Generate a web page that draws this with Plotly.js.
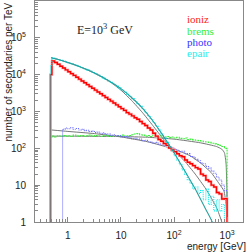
<!DOCTYPE html>
<html>
<head>
<meta charset="utf-8">
<script src="https://cdn.plot.ly/plotly-3.0.1.min.js"></script>
<style>html,body{margin:0;padding:0;background:#fff;}#chart{width:249px;height:252px;}</style>
</head>
<body>
<div id="chart"></div>
<script>
// Histogram bin edges (GeV): a narrow first bin, then 0.05-decade bins from 0.5 to 1000 GeV
const binEdges = [0.47, 0.5, 0.561, 0.631, 0.708, 0.794, 0.891, 1, 1.122, 1.259, 1.413, 1.585, 1.778, 1.995,
  2.239, 2.512, 2.818, 3.162, 3.548, 3.981, 4.467, 5.012, 5.623, 6.31, 7.079, 7.943, 8.913, 10, 11.22, 12.59,
  14.13, 15.85, 17.78, 19.95, 22.39, 25.12, 28.18, 31.62, 35.48, 39.81, 44.67, 50.12, 56.23, 63.1, 70.79,
  79.43, 89.13, 100, 112.2, 125.9, 141.3, 158.5, 177.8, 199.5, 223.9, 251.2, 281.8, 316.2, 354.8, 398.1,
  446.7, 501.2, 562.3, 631, 707.9, 794.3, 891.3, 1000];
// Histogram contents (secondaries per TeV); 0 = empty bin
const ioniz = [10000, 23400, 21400, 19100, 17000, 15100, 13500, 12000, 10700, 9550, 8510, 7590, 6760, 6030,
  5370, 4790, 4270, 3800, 3390, 3020, 2690, 2400, 2140, 1910, 1700, 1510, 1350, 1200, 1070, 933, 851, 759,
  676, 617, 537, 468, 417, 355, 316, 257, 214, 174, 155, 135, 120, 102, 91, 81, 71, 63, 59, 48, 42, 38, 34,
  30, 27.5, 20, 18.2, 13.8, 12.6, 10, 8.9, 6.3, 5.8, 4.2, 4.3];
const brems = [200, 214, 204, 219, 209, 224, 214, 219, 209, 229, 214, 219, 224, 209, 219, 229, 214, 224, 219,
  209, 224, 229, 214, 219, 209, 224, 219, 229, 214, 219, 224, 234, 245, 251, 234, 229, 214, 224, 209, 229,
  214, 204, 219, 200, 209, 195, 204, 191, 200, 186, 182, 191, 174, 178, 170, 166, 162, 158, 151, 148, 145,
  138, 132, 126, 120, 112, 100];
const photo = [0, 0, 0, 0, 0, 331, 355, 339, 363, 331, 347, 316, 331, 302, 309, 288, 295, 269, 275, 257, 263,
  240, 245, 229, 234, 214, 224, 204, 209, 195, 200, 182, 186, 174, 178, 162, 166, 151, 148, 141, 145, 129,
  132, 117, 115, 107, 105, 95, 89, 81, 83, 71, 72, 60, 58, 50, 46, 40, 38, 32, 29, 24, 21, 16.6, 13.8, 10, 7.1];
const epair = [18000, 28200, 26900, 25700, 24500, 23400, 21900, 20900, 20000, 18600, 17400, 16600, 15500,
  14500, 13500, 12600, 11500, 10700, 9770, 8910, 8130, 7410, 6760, 6170, 5500, 4900, 4370, 3890, 3390, 2950,
  2570, 2240, 1910, 1620, 1380, 1150, 933, 759, 617, 501, 398, 316, 245, 186, 145, 110, 85, 63, 48, 36, 26,
  20, 14, 11.2, 7.9, 8.9, 6.0, 7.1, 4.0, 7.9, 3.0, 5.0, 2.0, 4.0, 2.0, 3.0, 0];

// Fitted curves
const epairFitE = [0.48, 0.63, 1, 1.58, 2.51, 3.98, 6.31, 10, 15.8, 25.1, 39.8, 63.1, 100, 158, 251, 398, 525, 580];
const epairFitV = [28800, 26300, 21400, 17000, 12900, 9330, 6460, 4170, 2400, 1260, 562, 214, 76, 25, 7.9, 2.2, 1, 0.4];
const steepFitE = [0.48, 0.63, 1, 1.58, 2.51, 3.98, 6.31, 10, 15.8, 25.1, 39.8, 63.1, 100, 158, 251, 398, 631, 794, 900];
const steepFitV = [28800, 26300, 21400, 17000, 12900, 9330, 6300, 3800, 2000, 955, 417, 178, 89, 45, 20, 7.9, 2.5, 1, 0.4];
const bremsFitE = [0.48, 1, 10, 31.6, 100, 316, 631, 794, 891, 955, 990, 1000];
const bremsFitV = [214, 214, 209, 200, 178, 141, 112, 95, 76, 40, 8, 0.1];
const photoFitE = [0.48, 1, 3.16, 10, 31.6, 100, 200, 316, 501, 708, 871, 955, 990, 1000];
const photoFitV = [316, 288, 251, 204, 151, 95, 63, 40, 22, 11, 7, 3, 1, 0.1];

const xTickVals = [1, 10, 100, 1000];
const xTickText = ['1', '10', '10<sup>2</sup>', '10<sup>3</sup>'];
const yTickVals = [1, 10, 100, 1000, 10000, 100000];
const yTickText = ['1', '10', '10<sup>2</sup>', '10<sup>3</sup>', '10<sup>4</sup>', '10<sup>5</sup>'];
const legendNames = ['ioniz', 'brems', 'photo', 'epair'];
const legendColors = ['#ff2222', '#33ee33', '#3333ff', '#22eeee'];

function hist(vals) {
  const FLOOR = 1e-3;
  const x = [binEdges[0]], y = [FLOOR];
  vals.forEach((v, i) => { x.push(binEdges[i]); y.push(v > 0 ? v : FLOOR); });
  const last = vals[vals.length - 1];
  x.push(binEdges[binEdges.length - 1]); y.push(last > 0 ? last : FLOOR);
  x.push(binEdges[binEdges.length - 1]); y.push(FLOOR);
  return {x, y};
}

const traces = [];
function addHist(vals, color, width, dash) {
  const h = hist(vals);
  traces.push({x: h.x, y: h.y, type: 'scatter', mode: 'lines', line: {shape: 'hv', color, width, dash}, hoverinfo: 'skip'});
}
function addFit(xs, ys, color, width) {
  traces.push({x: xs, y: ys, type: 'scatter', mode: 'lines', line: {color, width, shape: 'spline', smoothing: 0.5}, hoverinfo: 'skip'});
}

addFit(steepFitE, steepFitV, '#777777', 1);
addFit(bremsFitE, bremsFitV, '#777777', 1);
addFit(photoFitE, photoFitV, '#777777', 1);
addHist(brems, '#3cf03c', 1.1, '2px,1px');
addHist(photo, '#6b6bff', 1.1, '1px,1px');
addHist(ioniz, '#ffb0b0', 2.6, 'solid');
addHist(ioniz, '#ff0000', 1.4, 'solid');
addHist(epair, '#00eeee', 1.1, '1px,1px');
addFit(epairFitE, epairFitV, '#2a9e9e', 1.1);

const annotations = [
  {text: 'E=10<sup>3</sup> GeV', xref: 'paper', yref: 'paper', x: 0.192, y: 0.873, xanchor: 'left', yanchor: 'middle',
   showarrow: false, font: {family: 'Liberation Serif', size: 12, color: '#222'}},
  {text: 'number of secondaries per TeV', xref: 'paper', yref: 'paper', x: 0, y: 1, xanchor: 'center', yanchor: 'top',
   xshift: -27, yshift: 0, textangle: -90, showarrow: false, font: {family: 'Liberation Sans', size: 10, color: '#222'}},
  {text: 'energy [GeV]', xref: 'paper', yref: 'paper', x: 1, y: 0, xanchor: 'right', yanchor: 'middle',
   xshift: 5, yshift: -24, showarrow: false, font: {family: 'Liberation Sans', size: 10, color: '#222'}}
];
const legendY = [0.919, 0.864, 0.814, 0.765];
legendNames.forEach((n, i) => annotations.push({text: n, xref: 'paper', yref: 'paper', x: 0.721, y: legendY[i],
  xanchor: 'left', yanchor: 'middle', showarrow: false, font: {family: 'Liberation Serif', size: 11, color: legendColors[i]}}));

const axisCommon = {showgrid: false, zeroline: false, showline: true, linecolor: '#888', linewidth: 1, mirror: true,
  ticks: 'inside', ticklen: 5, tickcolor: '#888', tickfont: {family: 'Liberation Sans', size: 10, color: '#222'}};

const layout = {
  width: 249, height: 252,
  margin: {l: 35, r: 6, t: 1, b: 30},
  paper_bgcolor: '#fff', plot_bgcolor: '#fff',
  showlegend: false,
  xaxis: Object.assign({}, axisCommon, {type: 'log', range: [-0.62, 3.3], tickmode: 'array', tickvals: xTickVals, ticktext: xTickText,
    ticklabelstandoff: 4, minor: {ticks: 'inside', ticklen: 3, tickcolor: '#888', dtick: 'D1', showgrid: false}}),
  yaxis: Object.assign({}, axisCommon, {type: 'log', range: [0, 6], tickmode: 'array', tickvals: yTickVals, ticktext: yTickText,
    ticklabelstandoff: 6, minor: {ticks: 'inside', ticklen: 3, tickcolor: '#888', dtick: 'D1', showgrid: false}}),
  annotations
};

Plotly.newPlot('chart', traces, layout, {staticPlot: true, displayModeBar: false});
</script>
</body>
</html>
